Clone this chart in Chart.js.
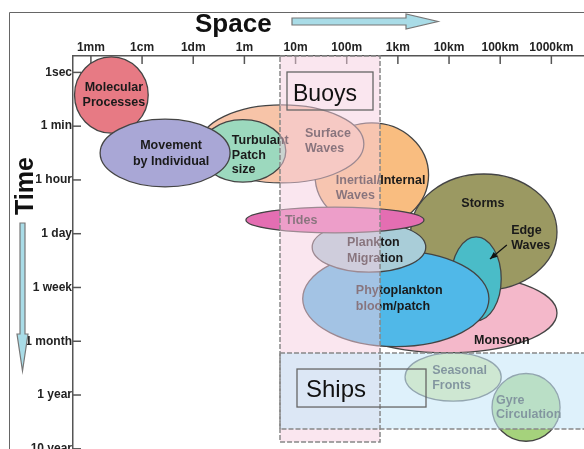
<!DOCTYPE html>
<html>
<head>
<meta charset="utf-8">
<script src="https://cdn.jsdelivr.net/npm/chart.js@4.4.1/dist/chart.umd.min.js"></script>
<style>
  body { margin: 0; background: #fff; }
  canvas { display: block; }
</style>
</head>
<body>
<canvas id="stommel" width="584" height="449"></canvas>
<script>
// space axis: one step = one decade, time axis: one step = one label
var spaceLabels = ['1mm', '1cm', '1dm', '1m', '10m', '100m', '1km', '10km', '100km', '1000km'];
var timeLabels = ['1sec', '1 min', '1 hour', '1 day', '1 week', '1 month', '1 year', '10 year'];

// processes, in drawing order (back to front)
var processNames = [
  ['Monsoon'],
  ['Storms'],
  ['Edge', 'Waves'],
  ['Phytoplankton', 'bloom/patch'],
  ['Plankton', 'Migration'],
  ['Inertial/Internal', 'Waves'],
  ['Tides'],
  ['Surface', 'Waves'],
  ['Turbulant', 'Patch', 'size'],
  ['Molecular', 'Processes'],
  ['Movement', 'by Individual'],
  ['Seasonal', 'Fronts'],
  ['Gyre', 'Circulation']
];
var spaceCentre = [6.96, 7.68, 7.53, 5.96, 5.435, 5.49, 4.77, 3.735, 2.97, 0.40, 1.45, 7.08, 8.505];
var timeCentre  = [4.475, 2.97, 3.84, 4.21, 3.25, 1.91, 2.745, 1.33, 1.46, 0.42, 1.50, 5.665, 6.23];
var spaceHalf   = [2.15, 1.43, 0.49, 1.82, 1.11, 1.11, 1.74, 1.60, 0.84, 0.72, 1.27, 0.94, 0.665];
var timeHalf    = [0.74, 1.08, 0.78, 0.89, 0.465, 0.97, 0.24, 0.725, 0.58, 0.71, 0.63, 0.45, 0.63];

// sampling platforms
var buoysSpace = [3.696, 5.651];
var buoysTime = [-0.305, 6.874];
var shipsSpace = [3.696, 10.2];
var shipsTime = [5.219, 6.632];

// edge waves pointer (from label to ellipse)
var pointerSpace = [8.13, 7.80];
var pointerTime = [3.21, 3.47];

// styles
var fillColours = ['#F4B8CA', '#9B9962', '#4ABCC8', '#50B8E8', '#A9CDD8', '#F9BD80', '#E46EB2',
                   '#F7C4A8', '#9CD9BE', '#E77A84', '#A9A7D6', '#D8E79A', '#A5D27C'];
// label placement: [align, dx, dy of first line, line height] in pixels from centre
var labelPlace = [
  ['left', 27, 28, 15],
  ['center', -1, -29, 15],
  ['left', 35, -48, 15],
  ['left', -40, -8, 16],
  ['left', -22, -5, 16],
  ['left', -36, 5, 15],
  ['left', -50, 1, 15],
  ['left', 23, -10, 15],
  ['left', -11, -10, 14.5],
  ['center', 2.5, -7, 15],
  ['center', 6, -8, 16],
  ['left', -21, -6, 15],
  ['left', -30, -6.5, 14]
];

var fontFamily = '"Liberation Sans", Arial, sans-serif';

var stommelPlugin = {
  id: 'stommel',
  beforeDatasetsDraw: function(chart) {
    var ctx = chart.ctx;
    var xs = chart.scales.x;
    var ys = chart.scales.y;
    var area = chart.chartArea;
    ctx.save();

    // inward tick marks
    ctx.strokeStyle = '#555';
    ctx.lineWidth = 1.5;
    for (var i = 0; i < spaceLabels.length; i++) {
      var tx = xs.getPixelForValue(i);
      ctx.beginPath();
      ctx.moveTo(tx, area.top);
      ctx.lineTo(tx, area.top + 8);
      ctx.stroke();
    }
    for (var j = 0; j < timeLabels.length; j++) {
      var ty = ys.getPixelForValue(j);
      ctx.beginPath();
      ctx.moveTo(area.left, ty);
      ctx.lineTo(area.left + 8, ty);
      ctx.stroke();
    }

    // process ellipses
    var centres = [];
    for (var k = 0; k < processNames.length; k++) {
      var cx = xs.getPixelForValue(spaceCentre[k]);
      var cy = ys.getPixelForValue(timeCentre[k]);
      var rx = Math.abs(xs.getPixelForValue(spaceCentre[k] + spaceHalf[k]) - cx);
      var ry = Math.abs(ys.getPixelForValue(timeCentre[k] + timeHalf[k]) - cy);
      centres.push([cx, cy]);
      ctx.beginPath();
      ctx.ellipse(cx, cy, rx, ry, 0, 0, Math.PI * 2);
      ctx.fillStyle = fillColours[k];
      ctx.fill();
      ctx.strokeStyle = '#444';
      ctx.lineWidth = 1.3;
      ctx.stroke();
    }

    // labels
    ctx.fillStyle = '#1a1a1a';
    ctx.font = 'bold 12.5px ' + fontFamily;
    ctx.textBaseline = 'middle';
    for (var m = 0; m < processNames.length; m++) {
      var p = labelPlace[m];
      ctx.textAlign = p[0];
      for (var n = 0; n < processNames[m].length; n++) {
        ctx.fillText(processNames[m][n], centres[m][0] + p[1], centres[m][1] + p[2] + n * p[3]);
      }
    }

    // pointer for edge waves
    var ax0 = xs.getPixelForValue(pointerSpace[0]), ay0 = ys.getPixelForValue(pointerTime[0]);
    var ax1 = xs.getPixelForValue(pointerSpace[1]), ay1 = ys.getPixelForValue(pointerTime[1]);
    var ang = Math.atan2(ay1 - ay0, ax1 - ax0);
    ctx.strokeStyle = '#111';
    ctx.fillStyle = '#111';
    ctx.lineWidth = 1.2;
    ctx.beginPath();
    ctx.moveTo(ax0, ay0);
    ctx.lineTo(ax1, ay1);
    ctx.stroke();
    ctx.beginPath();
    ctx.moveTo(ax1, ay1);
    ctx.lineTo(ax1 - 8 * Math.cos(ang - 0.4), ay1 - 8 * Math.sin(ang - 0.4));
    ctx.lineTo(ax1 - 8 * Math.cos(ang + 0.4), ay1 - 8 * Math.sin(ang + 0.4));
    ctx.closePath();
    ctx.fill();

    // platform bands
    var bx0 = xs.getPixelForValue(buoysSpace[0]), bx1 = xs.getPixelForValue(buoysSpace[1]);
    var by0 = ys.getPixelForValue(buoysTime[0]), by1 = ys.getPixelForValue(buoysTime[1]);
    var sx0 = xs.getPixelForValue(shipsSpace[0]), sx1 = xs.getPixelForValue(shipsSpace[1]);
    var sy0 = ys.getPixelForValue(shipsTime[0]), sy1 = ys.getPixelForValue(shipsTime[1]);

    ctx.fillStyle = 'rgba(246,206,224,0.5)';
    ctx.fillRect(bx0, by0, bx1 - bx0, by1 - by0);
    ctx.fillStyle = 'rgba(200,232,248,0.6)';
    ctx.fillRect(sx0, sy0, sx1 - sx0, sy1 - sy0);

    ctx.setLineDash([5, 2]);
    ctx.strokeStyle = '#888';
    ctx.lineWidth = 1.5;
    ctx.strokeRect(bx0, by0, bx1 - bx0, by1 - by0);
    ctx.strokeRect(sx0, sy0, sx1 - sx0, sy1 - sy0);
    ctx.setLineDash([]);

    // platform name boxes
    ctx.strokeStyle = '#666';
    ctx.lineWidth = 1.3;
    ctx.strokeRect(bx0 + 7, by0 + 16, 86, 38);
    ctx.strokeRect(sx0 + 17, sy0 + 16, 129, 38);
    ctx.fillStyle = '#111';
    ctx.textAlign = 'left';
    ctx.textBaseline = 'alphabetic';
    ctx.font = '23px ' + fontFamily;
    ctx.fillText('Buoys', bx0 + 13, by0 + 45);
    ctx.font = '24px ' + fontFamily;
    ctx.fillText('Ships', sx0 + 26, sy0 + 44);

    ctx.restore();
  },
  afterDraw: function(chart) {
    var ctx = chart.ctx;
    ctx.save();
    // frame
    ctx.strokeStyle = '#666';
    ctx.lineWidth = 1;
    ctx.beginPath();
    ctx.moveTo(9.5, 460);
    ctx.lineTo(9.5, 12.5);
    ctx.lineTo(600, 12.5);
    ctx.stroke();

    // axis titles
    ctx.fillStyle = '#111';
    ctx.font = 'bold 26px ' + fontFamily;
    ctx.textAlign = 'left';
    ctx.textBaseline = 'alphabetic';
    ctx.fillText('Space', 195, 32);

    ctx.save();
    ctx.translate(33, 186);
    ctx.rotate(-Math.PI / 2);
    ctx.font = 'bold 25px ' + fontFamily;
    ctx.textAlign = 'center';
    ctx.fillText('Time', 0, 0);
    ctx.restore();

    // arrows
    ctx.fillStyle = '#A9DCE7';
    ctx.strokeStyle = '#777';
    ctx.lineWidth = 1.2;
    ctx.beginPath();
    ctx.moveTo(292, 18);
    ctx.lineTo(406, 18);
    ctx.lineTo(406, 14);
    ctx.lineTo(438, 21.5);
    ctx.lineTo(406, 29);
    ctx.lineTo(406, 25);
    ctx.lineTo(292, 25);
    ctx.closePath();
    ctx.fill();
    ctx.stroke();

    ctx.beginPath();
    ctx.moveTo(20, 223);
    ctx.lineTo(25, 223);
    ctx.lineTo(25, 334);
    ctx.lineTo(28, 334);
    ctx.lineTo(22.5, 371);
    ctx.lineTo(17, 334);
    ctx.lineTo(20, 334);
    ctx.closePath();
    ctx.fill();
    ctx.stroke();
    ctx.restore();
  }
};

var ctx = document.getElementById('stommel').getContext('2d');
var chart = new Chart(ctx, {
  type: 'scatter',
  data: {
    datasets: [{
      data: spaceCentre.map(function(v, i) { return {x: v, y: timeCentre[i]}; }),
      pointRadius: 0,
      pointHoverRadius: 0
    }]
  },
  options: {
    responsive: false,
    animation: false,
    devicePixelRatio: 1,
    layout: { padding: 0 },
    plugins: {
      legend: { display: false },
      tooltip: { enabled: false }
    },
    events: [],
    scales: {
      x: {
        type: 'linear',
        position: 'top',
        min: -0.35,
        max: 9.638,
        afterBuildTicks: function(s) {
          s.ticks = spaceLabels.map(function(l, i) { return {value: i}; });
        },
        afterFit: function(s) {
          s.height = 56;
          s.paddingLeft = 0; s.paddingRight = 0; s.paddingTop = 0; s.paddingBottom = 0;
        },
        grid: { display: false, drawTicks: false },
        border: { display: true, color: '#555', width: 1.5 },
        ticks: {
          padding: 1.5,
          autoSkip: false,
          maxRotation: 0,
          minRotation: 0,
          color: '#222',
          font: { family: fontFamily, size: 12, weight: 'bold' },
          callback: function(v) { return spaceLabels[v]; }
        }
      },
      y: {
        type: 'linear',
        position: 'left',
        reverse: true,
        min: -0.305,
        max: 7.004,
        afterBuildTicks: function(s) {
          s.ticks = timeLabels.map(function(l, i) { return {value: i}; });
        },
        afterFit: function(s) {
          s.width = 73;
          s.paddingLeft = 0; s.paddingRight = 0; s.paddingTop = 0; s.paddingBottom = 0;
        },
        grid: { display: false, drawTicks: false },
        border: { display: true, color: '#555', width: 1.5 },
        ticks: {
          padding: 1,
          autoSkip: false,
          color: '#222',
          font: { family: fontFamily, size: 12, weight: 'bold' },
          callback: function(v) { return timeLabels[v]; }
        }
      }
    }
  },
  plugins: [stommelPlugin]
});
</script>
</body>
</html>
